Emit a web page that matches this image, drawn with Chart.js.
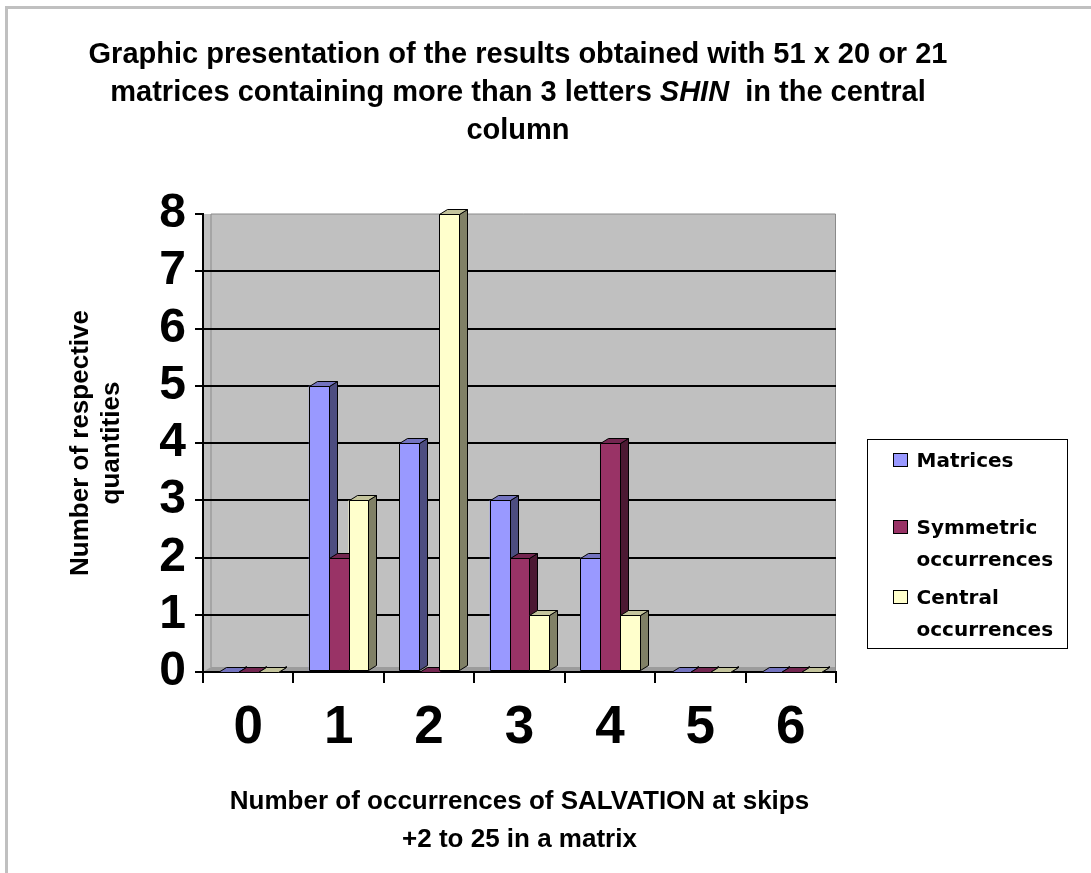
<!DOCTYPE html>
<html>
<head>
<meta charset="utf-8">
<script src="https://cdn.jsdelivr.net/npm/chart.js@4.4.0/dist/chart.umd.min.js"></script>
<style>
  html, body { margin: 0; padding: 0; background: #fff; }
  #wrap { position: relative; width: 1091px; height: 873px; }
  #frame { position: absolute; left: 5px; top: 6px; right: 0; bottom: 0;
           border-top: 3px solid #c0c0c0; border-left: 3px solid #c0c0c0; pointer-events: none; }
</style>
</head>
<body>
<div id="wrap">
  <canvas id="myChart" width="1091" height="873"></canvas>
  <div id="frame"></div>
</div>
<script>
const categories = ['0', '1', '2', '3', '4', '5', '6'];
const matrices = [0, 5, 4, 3, 2, 0, 0];
const symmetric = [0, 2, 0, 2, 4, 0, 0];
const central = [0, 3, 8, 1, 1, 0, 0];
const yTicks = [0, 1, 2, 3, 4, 5, 6, 7, 8];
const seriesNames = ['Matrices', ['Symmetric', 'occurrences'], ['Central', 'occurrences']];

// each title line is a list of [text, italic] pieces
const titleLines = [
    [['Graphic presentation of the results obtained with 51 x 20 or 21', false]],
    [['matrices containing more than 3 letters ', false], ['SHIN', true], ['  in the central', false]],
    [['column', false]]
];
const xTitle = ['Number of occurrences of SALVATION at skips', '+2 to 25 in a matrix'];
const yTitle = ['Number of respective', 'quantities'];

// front / side / top faces for the fake 3d columns
const faces = [
    { front: '#9999ff', side: '#4d4d80', top: '#7373bf' },
    { front: '#993366', side: '#4c1933', top: '#732650' },
    { front: '#ffffcc', side: '#808066', top: '#c4c49c' }
];
const depthX = 8, depthY = 5;
const fontFam = '"Liberation Sans", Arial, sans-serif';
const titleSize = 29;

function poly(ctx, pts, fill) {
    ctx.beginPath();
    ctx.moveTo(pts[0][0], pts[0][1]);
    for (let k = 1; k < pts.length; k++) ctx.lineTo(pts[k][0], pts[k][1]);
    ctx.closePath();
    ctx.fillStyle = fill;
    ctx.fill();
    ctx.stroke();
}

const wall3d = {
    id: 'wall3d',
    beforeDraw(chart) {
        const { ctx, chartArea: a } = chart;
        ctx.save();
        ctx.fillStyle = '#c0c0c0';
        ctx.fillRect(a.left, a.top, a.right - a.left, a.bottom - a.top);
        // floor strip
        ctx.fillStyle = '#9c9c9c';
        ctx.beginPath();
        ctx.moveTo(a.left, a.bottom);
        ctx.lineTo(a.left + depthX, a.bottom - depthY);
        ctx.lineTo(a.right, a.bottom - depthY);
        ctx.lineTo(a.right, a.bottom);
        ctx.closePath();
        ctx.fill();
        // wall edges
        ctx.strokeStyle = '#8a8a8a';
        ctx.lineWidth = 1;
        ctx.beginPath();
        ctx.moveTo(a.left + depthX, a.bottom - depthY);
        ctx.lineTo(a.left + depthX, a.top);
        ctx.lineTo(a.right - 0.5, a.top);
        ctx.lineTo(a.right - 0.5, a.bottom);
        ctx.stroke();
        ctx.restore();
    }
};

const bars3d = {
    id: 'bars3d',
    afterDatasetsDraw(chart) {
        const ctx = chart.ctx;
        const metas = chart.data.datasets.map((d, i) => chart.getDatasetMeta(i));
        ctx.save();
        ctx.lineWidth = 1;
        ctx.strokeStyle = '#000';
        for (let j = 0; j < chart.data.labels.length; j++) {
            metas.forEach((meta, i) => {
                const bar = meta.data[j];
                const p = bar.getProps(['x', 'y', 'base', 'width'], true);
                const l = Math.round(p.x - p.width / 2) + 0.5;
                const r = Math.round(p.x + p.width / 2) + 0.5;
                const t = Math.round(p.y) + 0.5;
                const b = Math.round(p.base) - 0.5;
                const f = faces[i];
                poly(ctx, [[r, t], [r + depthX, t - depthY], [r + depthX, b - depthY], [r, b]], f.side);
                poly(ctx, [[l, t], [l + depthX, t - depthY], [r + depthX, t - depthY], [r, t]], f.top);
                if (b - t > 1) poly(ctx, [[l, t], [r, t], [r, b], [l, b]], f.front);
            });
        }
        ctx.restore();
    }
};

// title with the italic SHIN, placed in the space the title block reserves
const mixedTitle = {
    id: 'mixedTitle',
    afterDraw(chart) {
        const { ctx } = chart;
        const tb = chart.titleBlock;
        const opts = chart.options.plugins.title;
        const lh = titleSize * opts.font.lineHeight;
        const cx = (tb.left + tb.right) / 2;
        const fnt = it => (it ? 'italic ' : '') + 'bold ' + titleSize + 'px ' + fontFam;
        ctx.save();
        ctx.fillStyle = '#000';
        ctx.textBaseline = 'middle';
        ctx.textAlign = 'left';
        titleLines.forEach((pieces, i) => {
            let total = 0;
            pieces.forEach(pc => { ctx.font = fnt(pc[1]); total += ctx.measureText(pc[0]).width; });
            let x = cx - total / 2;
            const y = tb.top + opts.padding.top + lh / 2 + i * lh;
            pieces.forEach(pc => {
                ctx.font = fnt(pc[1]);
                ctx.fillText(pc[0], x, y);
                x += ctx.measureText(pc[0]).width;
            });
        });
        ctx.restore();
    }
};

const legendBox = {
    id: 'legendBox',
    afterDraw(chart) {
        const { ctx, chartArea: a } = chart;
        const x0 = Math.round(a.right + 31) + 0.5, y0 = Math.round(a.top + 225) + 0.5;
        const w = 200, h = 209;
        const rowBase = [27, 94, 164];
        ctx.save();
        ctx.fillStyle = '#fff';
        ctx.fillRect(x0, y0, w, h);
        ctx.strokeStyle = '#000';
        ctx.lineWidth = 1;
        ctx.strokeRect(x0, y0, w, h);
        ctx.font = 'bold 20px "DejaVu Sans", sans-serif';
        ctx.textBaseline = 'alphabetic';
        seriesNames.forEach((name, i) => {
            const lines = Array.isArray(name) ? name : [name];
            const by = y0 + rowBase[i];
            ctx.fillStyle = faces[i].front;
            ctx.fillRect(x0 + 26, by - 13, 14, 13);
            ctx.strokeRect(x0 + 26, by - 13, 14, 13);
            ctx.fillStyle = '#000';
            lines.forEach((txt, k) => ctx.fillText(txt, x0 + 49, by + k * 32));
        });
        ctx.restore();
    }
};

const ctx = document.getElementById('myChart');
new Chart(ctx, {
    type: 'bar',
    data: {
        labels: categories,
        datasets: [
            { label: 'Matrices', data: matrices, backgroundColor: faces[0].front },
            { label: 'Symmetric occurrences', data: symmetric, backgroundColor: faces[1].front },
            { label: 'Central occurrences', data: central, backgroundColor: faces[2].front }
        ]
    },
    options: {
        responsive: false,
        animation: false,
        categoryPercentage: 0.66,
        barPercentage: 1.0,
        layout: { padding: { left: 0, right: 55, top: 0, bottom: 0 } },
        plugins: {
            legend: { display: false },
            tooltip: { enabled: false },
            title: {
                display: true,
                // reserves the space; the text itself is drawn by mixedTitle
                text: titleLines.map(pcs => pcs.map(pc => pc[0]).join('')),
                color: 'rgba(0,0,0,0)',
                font: { family: fontFam, size: titleSize, weight: 'bold', lineHeight: 38 / titleSize },
                padding: { top: 36, bottom: 64 }
            }
        },
        scales: {
            x: {
                offset: true,
                grid: { offset: true, drawOnChartArea: false, drawTicks: true, tickLength: 11, color: '#000', lineWidth: 2 },
                border: { display: true, color: '#000', width: 2 },
                ticks: { color: '#000', padding: 14, autoSkip: false, font: { family: fontFam, size: 53, weight: 'bold' } },
                title: {
                    display: true,
                    text: xTitle,
                    color: '#000',
                    font: { family: fontFam, size: 26, weight: 'bold', lineHeight: 38 / 26 },
                    padding: { top: 0, bottom: 14 }
                },
                afterFit(scale) { scale.height = 201; }
            },
            y: {
                min: 0,
                max: 8,
                afterBuildTicks(scale) { scale.ticks = yTicks.map(v => ({ value: v })); },
                ticks: { color: '#000', padding: 9, autoSkip: false, font: { family: fontFam, size: 48, weight: 'bold' } },
                grid: {
                    color: c => (c.tick && c.tick.value > 0 && c.tick.value < 8) ? '#000' : 'rgba(0,0,0,0)',
                    tickColor: '#000',
                    lineWidth: 2,
                    tickLength: 8
                },
                border: { display: true, color: '#000', width: 2 },
                title: {
                    display: true,
                    text: yTitle,
                    color: '#000',
                    font: { family: fontFam, size: 26, weight: 'bold', lineHeight: 1.2 },
                    padding: { top: 65, bottom: 0 }
                },
                afterFit(scale) { scale.width = 203; }
            },
            legendSpace: {
                type: 'linear',
                axis: 'y',
                position: 'right',
                display: true,
                grid: { display: false },
                border: { display: false },
                ticks: { display: false },
                afterFit(scale) { scale.width = 200; }
            }
        }
    },
    plugins: [wall3d, bars3d, mixedTitle, legendBox]
});
</script>
</body>
</html>
